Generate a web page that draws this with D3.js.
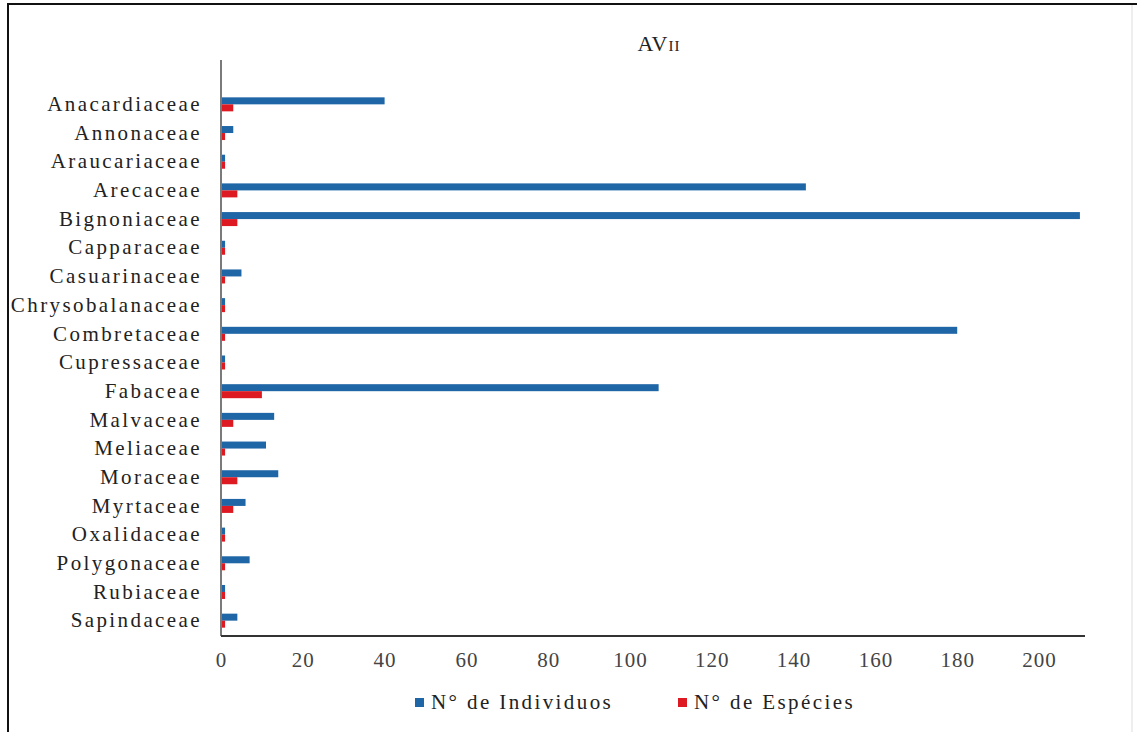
<!DOCTYPE html>
<html><head><meta charset="utf-8">
<script src="https://cdn.jsdelivr.net/npm/d3@7"></script>
<style>
html,body{margin:0;padding:0;background:#fff;}
svg{display:block;}
</style></head>
<body>
<svg id="chart" width="1137" height="732"></svg>
<script>
const categories = ["Anacardiaceae","Annonaceae","Araucariaceae","Arecaceae","Bignoniaceae","Capparaceae","Casuarinaceae","Chrysobalanaceae","Combretaceae","Cupressaceae","Fabaceae","Malvaceae","Meliaceae","Moraceae","Myrtaceae","Oxalidaceae","Polygonaceae","Rubiaceae","Sapindaceae"];
const individuos = [40,3,1,143,210,1,5,1,180,1,107,13,11,14,6,1,7,1,4];
const especies   = [3,1,1,4,4,1,1,1,1,1,10,3,1,4,3,1,1,1,1];
const seriesNames = ["N° de Individuos","N° de Espécies"];
const seriesColors = ["#1F66A6","#DD1A22"];
const xTicks = [0,20,40,60,80,100,120,140,160,180,200];
const xMax = 211;
const FONT = "'Liberation Serif','Times New Roman',Tinos,'DejaVu Serif',serif";

const svg = d3.select("#chart");
svg.append("rect").attr("x",0).attr("y",0).attr("width",1137).attr("height",732).attr("fill","#fff");
svg.append("line").attr("x1",8).attr("x2",8).attr("y1",3).attr("y2",732).attr("stroke","#111").attr("stroke-width",2);
svg.append("line").attr("x1",8).attr("x2",1137).attr("y1",4).attr("y2",4).attr("stroke","#111").attr("stroke-width",2);
svg.append("line").attr("x1",1132).attr("x2",1132).attr("y1",5).attr("y2",732).attr("stroke","#ddd").attr("stroke-width",1);

const x = d3.scaleLinear().domain([0,xMax]).range([221,1084]);
const y = d3.scaleBand().domain(categories).range([90,635]).paddingInner(0).paddingOuter(0);
const sub = d3.scaleBand().domain([0,1]).range([0,14]);
const off = (y.bandwidth()-14)/2;

const data = [individuos, especies];
data.forEach((vals,si)=>{
  svg.append("g").selectAll("rect").data(categories).join("rect")
    .attr("x",x(0))
    .attr("y",(c)=>y(c)+off+sub(si))
    .attr("width",(c,i)=>x(vals[i])-x(0))
    .attr("height",sub.bandwidth())
    .attr("fill",seriesColors[si]);
});

const yAxis = d3.axisLeft(y).tickSize(0).tickPadding(19);
const gy = svg.append("g").attr("transform","translate(221,0)").call(yAxis);
gy.attr("font-family",FONT);
gy.select(".domain").remove();
gy.selectAll("text").attr("font-size",21).attr("letter-spacing","2.4px").attr("fill","#222");
svg.append("line").attr("x1",221).attr("x2",221).attr("y1",60).attr("y2",636).attr("stroke","#7a7a7a").attr("stroke-width",2);

const xAxis = d3.axisBottom(x).tickValues(xTicks).tickSize(0).tickPadding(17).tickFormat(d3.format("d"));
const gx = svg.append("g").attr("transform","translate(0,635)").call(xAxis);
gx.attr("font-family",FONT);
gx.select(".domain").remove();
gx.selectAll("text").attr("font-size",21).attr("letter-spacing","1px").attr("fill","#444");
svg.append("line").attr("x1",221).attr("x2",1085).attr("y1",636).attr("y2",636).attr("stroke","#333").attr("stroke-width",2);

const t = svg.append("text").attr("x",659).attr("y",51).attr("text-anchor","middle").attr("font-size",22).attr("letter-spacing","1px").attr("fill","#222").attr("font-family",FONT);
t.append("tspan").text("AV");
t.append("tspan").attr("font-size",15).text("II");

const legendX = [415, 678];
seriesNames.forEach((n,i)=>{
  svg.append("rect").attr("x",legendX[i]).attr("y",698).attr("width",9).attr("height",9).attr("fill",seriesColors[i]);
  svg.append("text").attr("x",legendX[i]+16).attr("y",709).attr("font-size",21).attr("font-family",FONT).attr("letter-spacing","2.4px").attr("fill","#222").text(n);
});
</script>
</body></html>
